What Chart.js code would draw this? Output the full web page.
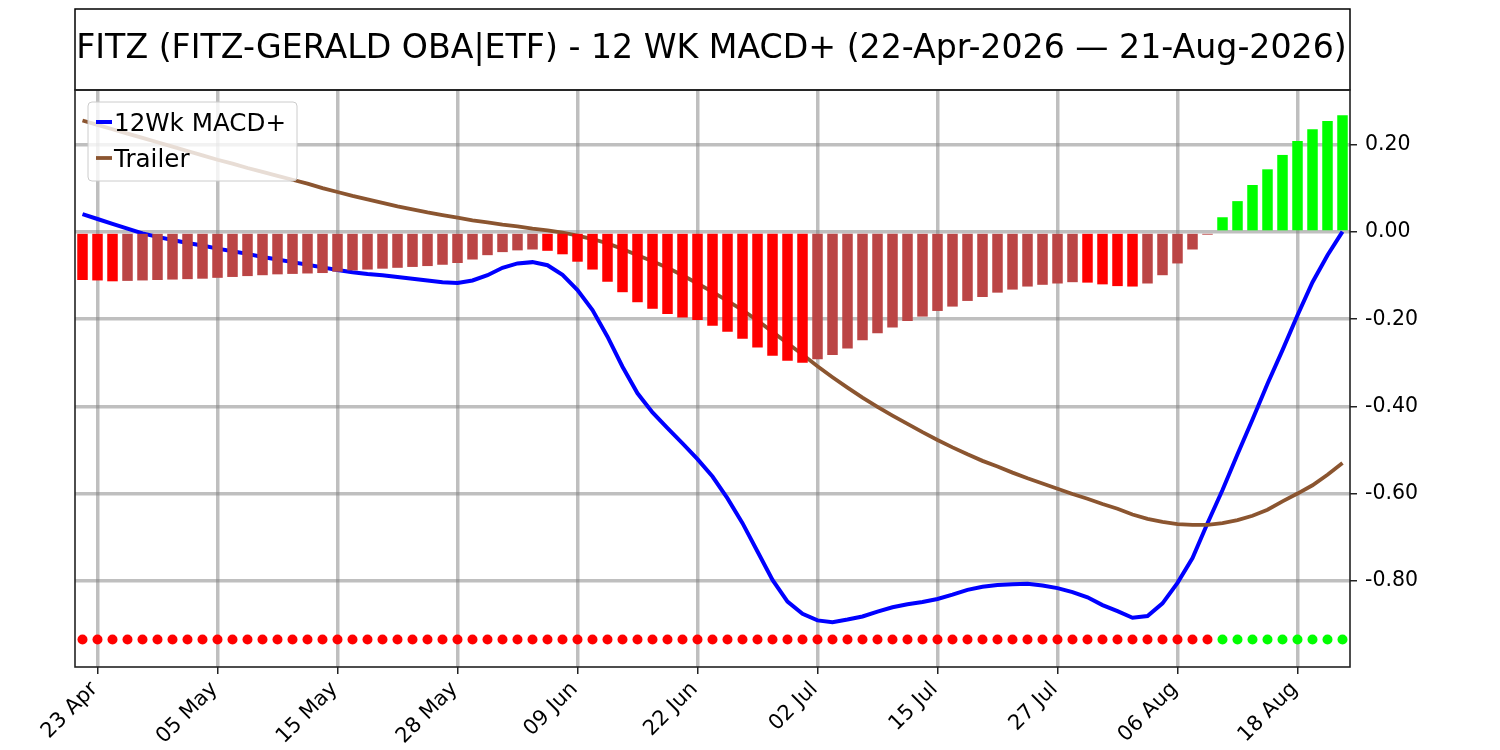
<!DOCTYPE html>
<html>
<head>
<meta charset="utf-8">
<script src="https://cdn.jsdelivr.net/npm/chart.js@4.4.1/dist/chart.umd.min.js"></script>
<style>
  html, body { margin: 0; padding: 0; background: #fff; }
  #wrap { width: 1500px; height: 750px; }
</style>
</head>
<body>
<div id="wrap"><canvas id="macdChart"></canvas></div>
<script>
const titleText = 'FITZ (FITZ-GERALD OBA|ETF) - 12 WK MACD+ (22-Apr-2026 \u2014 21-Aug-2026)';

// trading days, 22 Apr - 21 Aug 2026
const dates = [
  '22 Apr', '23 Apr', '24 Apr', '27 Apr', '28 Apr', '29 Apr', '30 Apr', '01 May', '04 May', '05 May',
  '06 May', '07 May', '08 May', '11 May', '12 May', '13 May', '14 May', '15 May', '18 May', '19 May',
  '20 May', '21 May', '22 May', '26 May', '27 May', '28 May', '29 May', '01 Jun', '02 Jun', '03 Jun',
  '04 Jun', '05 Jun', '08 Jun', '09 Jun', '10 Jun', '11 Jun', '12 Jun', '15 Jun', '16 Jun', '17 Jun',
  '18 Jun', '22 Jun', '23 Jun', '24 Jun', '25 Jun', '26 Jun', '29 Jun', '30 Jun', '01 Jul', '02 Jul',
  '06 Jul', '07 Jul', '08 Jul', '09 Jul', '10 Jul', '13 Jul', '14 Jul', '15 Jul', '16 Jul', '17 Jul',
  '20 Jul', '21 Jul', '22 Jul', '23 Jul', '24 Jul', '27 Jul', '28 Jul', '29 Jul', '30 Jul', '31 Jul',
  '03 Aug', '04 Aug', '05 Aug', '06 Aug', '07 Aug', '10 Aug', '11 Aug', '12 Aug', '13 Aug', '14 Aug',
  '17 Aug', '18 Aug', '19 Aug', '20 Aug', '21 Aug'
];

const xTickLabels = ['23 Apr', '05 May', '15 May', '28 May', '09 Jun', '22 Jun', '02 Jul', '15 Jul', '27 Jul', '06 Aug', '18 Aug'];
const yTickValues = [0.2, 0, -0.2, -0.4, -0.6, -0.8];

const macdLine = [
  0.041, 0.030, 0.019, 0.008, -0.003, -0.011, -0.018, -0.025, -0.031, -0.038,
  -0.044, -0.050, -0.057, -0.063, -0.069, -0.075, -0.081, -0.087, -0.092, -0.096,
  -0.099, -0.103, -0.107, -0.111, -0.115, -0.117, -0.111, -0.099, -0.082, -0.072,
  -0.069, -0.076, -0.098, -0.133, -0.179, -0.240, -0.309, -0.370, -0.414, -0.450,
  -0.485, -0.521, -0.561, -0.611, -0.668, -0.733, -0.798, -0.848, -0.876, -0.891,
  -0.895, -0.889, -0.882, -0.871, -0.861, -0.854, -0.849, -0.842, -0.832, -0.821,
  -0.814, -0.810, -0.808, -0.807, -0.811, -0.817, -0.826, -0.838, -0.856, -0.870,
  -0.885, -0.881, -0.852, -0.805, -0.748, -0.668, -0.592, -0.510, -0.430, -0.348,
  -0.271, -0.191, -0.115, -0.053, 0.001
];

const trailerLine = [
  0.256, 0.246, 0.236, 0.226, 0.216, 0.206, 0.196, 0.186, 0.176, 0.166,
  0.157, 0.147, 0.138, 0.129, 0.120, 0.111, 0.101, 0.092, 0.083, 0.075,
  0.067, 0.059, 0.052, 0.045, 0.039, 0.033, 0.027, 0.022, 0.017, 0.013,
  0.008, 0.004, -0.001, -0.008, -0.016, -0.026, -0.039, -0.053, -0.067, -0.082,
  -0.099, -0.118, -0.137, -0.158, -0.179, -0.203, -0.229, -0.255, -0.281, -0.308,
  -0.333, -0.357, -0.380, -0.401, -0.421, -0.440, -0.459, -0.477, -0.494, -0.510,
  -0.525, -0.538, -0.552, -0.565, -0.577, -0.589, -0.601, -0.612, -0.624, -0.635,
  -0.648, -0.658, -0.665, -0.670, -0.672, -0.672, -0.668, -0.661, -0.651, -0.637,
  -0.618, -0.600, -0.581, -0.557, -0.530
];

const histBars = [
  -0.110, -0.111, -0.113, -0.112, -0.111, -0.110, -0.109, -0.108, -0.107, -0.105,
  -0.103, -0.101, -0.099, -0.097, -0.096, -0.095, -0.094, -0.091, -0.088, -0.086,
  -0.084, -0.082, -0.080, -0.078, -0.075, -0.071, -0.063, -0.053, -0.046, -0.042,
  -0.040, -0.043, -0.051, -0.068, -0.086, -0.114, -0.138, -0.161, -0.176, -0.188,
  -0.196, -0.202, -0.215, -0.229, -0.245, -0.265, -0.284, -0.295, -0.300, -0.292,
  -0.282, -0.267, -0.248, -0.232, -0.219, -0.204, -0.194, -0.181, -0.171, -0.158,
  -0.149, -0.139, -0.132, -0.125, -0.121, -0.118, -0.115, -0.116, -0.120, -0.124,
  -0.125, -0.118, -0.099, -0.072, -0.040, -0.006, 0.034, 0.071, 0.108, 0.144,
  0.177, 0.209, 0.236, 0.255, 0.268
];

const dotRow = -0.935;

const RED = '#ff0000';
const DULL_RED = '#bb4545';
const GREEN = '#00ff00';
const GRID = 'rgba(128,128,128,0.5)';
const FONT = 'DejaVu Sans';

// red: falling below zero, dull red: rising below zero, green: above zero
const barColors = histBars.map(function (v, i) {
    if (v >= 0) return GREEN;
    if (i > 0 && v > histBars[i - 1]) return DULL_RED;
    return RED;
});
const dotColors = histBars.map(v => v > 0 ? GREEN : RED);

const frameAndTitle = {
    id: 'frameAndTitle',
    afterDraw(chart) {
        const ctx = chart.ctx;
        const a = chart.chartArea;
        ctx.save();
        ctx.strokeStyle = '#000';
        ctx.lineWidth = 1.5;
        ctx.strokeRect(a.left, 9, a.right - a.left, a.top - 9);
        ctx.fillStyle = '#000';
        ctx.font = '33.2px "' + FONT + '"';
        ctx.textAlign = 'center';
        ctx.textBaseline = 'middle';
        ctx.fillText(titleText, (a.left + a.right) / 2 - 1, 49);

        ctx.strokeStyle = '#222';
        ctx.lineWidth = 1.6;
        ctx.strokeRect(a.left, a.top, a.right - a.left, a.bottom - a.top);

        // legend box
        const lx = a.left + 13, ly = a.top + 12, lw = 209, lh = 79;
        ctx.beginPath();
        ctx.roundRect(lx, ly, lw, lh, 4);
        ctx.fillStyle = 'rgba(255,255,255,0.8)';
        ctx.fill();
        ctx.strokeStyle = '#cccccc';
        ctx.lineWidth = 1;
        ctx.stroke();
        ctx.font = '24.6px "' + FONT + '"';
        ctx.textAlign = 'left';
        ctx.textBaseline = 'alphabetic';
        chart.data.datasets.slice(0, 2).forEach(function (ds, i) {
            const rowY = ly + 20 + i * 36;
            ctx.strokeStyle = ds.borderColor;
            ctx.lineWidth = ds.borderWidth;
            ctx.beginPath();
            ctx.moveTo(lx + 8, rowY);
            ctx.lineTo(lx + 24, rowY);
            ctx.stroke();
            ctx.fillStyle = '#000';
            ctx.fillText(ds.label, lx + 26, rowY + 9);
        });
        ctx.restore();
    }
};

const macdChart = document.querySelector('#macdChart');

new Chart(macdChart, {
    type: 'bar',
    data: {
        labels: dates,
        datasets: [{
            type: 'line',
            label: '12Wk MACD+',
            data: macdLine,
            borderColor: '#0000ff',
            borderWidth: 4,
            pointRadius: 0,
            order: 3
        }, {
            type: 'line',
            label: 'Trailer',
            data: trailerLine,
            borderColor: '#8b5530',
            borderWidth: 3.8,
            pointRadius: 0,
            order: 2
        }, {
            type: 'bar',
            label: 'Histogram',
            data: histBars,
            backgroundColor: barColors,
            borderWidth: 0,
            barPercentage: 0.7,
            categoryPercentage: 1,
            order: 1
        }, {
            type: 'line',
            label: 'Signal',
            data: dates.map(() => dotRow),
            showLine: false,
            pointRadius: 5,
            pointBorderWidth: 0,
            pointBackgroundColor: dotColors,
            order: 0
        }]
    },
    options: {
        responsive: true,
        maintainAspectRatio: false,
        animation: false,
        layout: { padding: { top: 90, left: 75, right: 0, bottom: 0 } },
        plugins: {
            legend: { display: false },
            title: { display: false },
            tooltip: { enabled: false }
        },
        scales: {
            x: {
                offset: true,
                z: 1,
                grid: {
                    offset: false,
                    lineWidth: 3.5,
                    tickLength: 7,
                    tickWidth: 1.5,
                    color: ctx => xTickLabels.includes(dates[ctx.index]) ? GRID : 'rgba(0,0,0,0)',
                    tickColor: ctx => xTickLabels.includes(dates[ctx.index]) ? '#222' : 'rgba(0,0,0,0)'
                },
                border: { display: false },
                ticks: {
                    autoSkip: false,
                    minRotation: 45,
                    maxRotation: 45,
                    padding: 3,
                    labelOffset: -3,
                    color: '#000',
                    font: { family: FONT, size: 21 },
                    callback: function (value) {
                        const lab = this.getLabelForValue(value);
                        return xTickLabels.includes(lab) ? lab : '';
                    }
                },
                afterFit: function (scale) { scale.height = 83; }
            },
            y: {
                position: 'right',
                min: -0.998,
                max: 0.326,
                z: 1,
                grid: {
                    color: GRID,
                    lineWidth: 3.5,
                    tickLength: 7,
                    tickWidth: 1.5,
                    tickColor: '#222'
                },
                border: { display: false },
                afterBuildTicks: function (scale) {
                    scale.ticks = yTickValues.map(v => ({ value: v }));
                },
                ticks: {
                    padding: 8,
                    color: '#000',
                    font: { family: FONT, size: 20.5 },
                    callback: v => v.toFixed(2)
                },
                afterFit: function (scale) { scale.width = 150; }
            }
        }
    },
    plugins: [frameAndTitle]
});
</script>
</body>
</html>
